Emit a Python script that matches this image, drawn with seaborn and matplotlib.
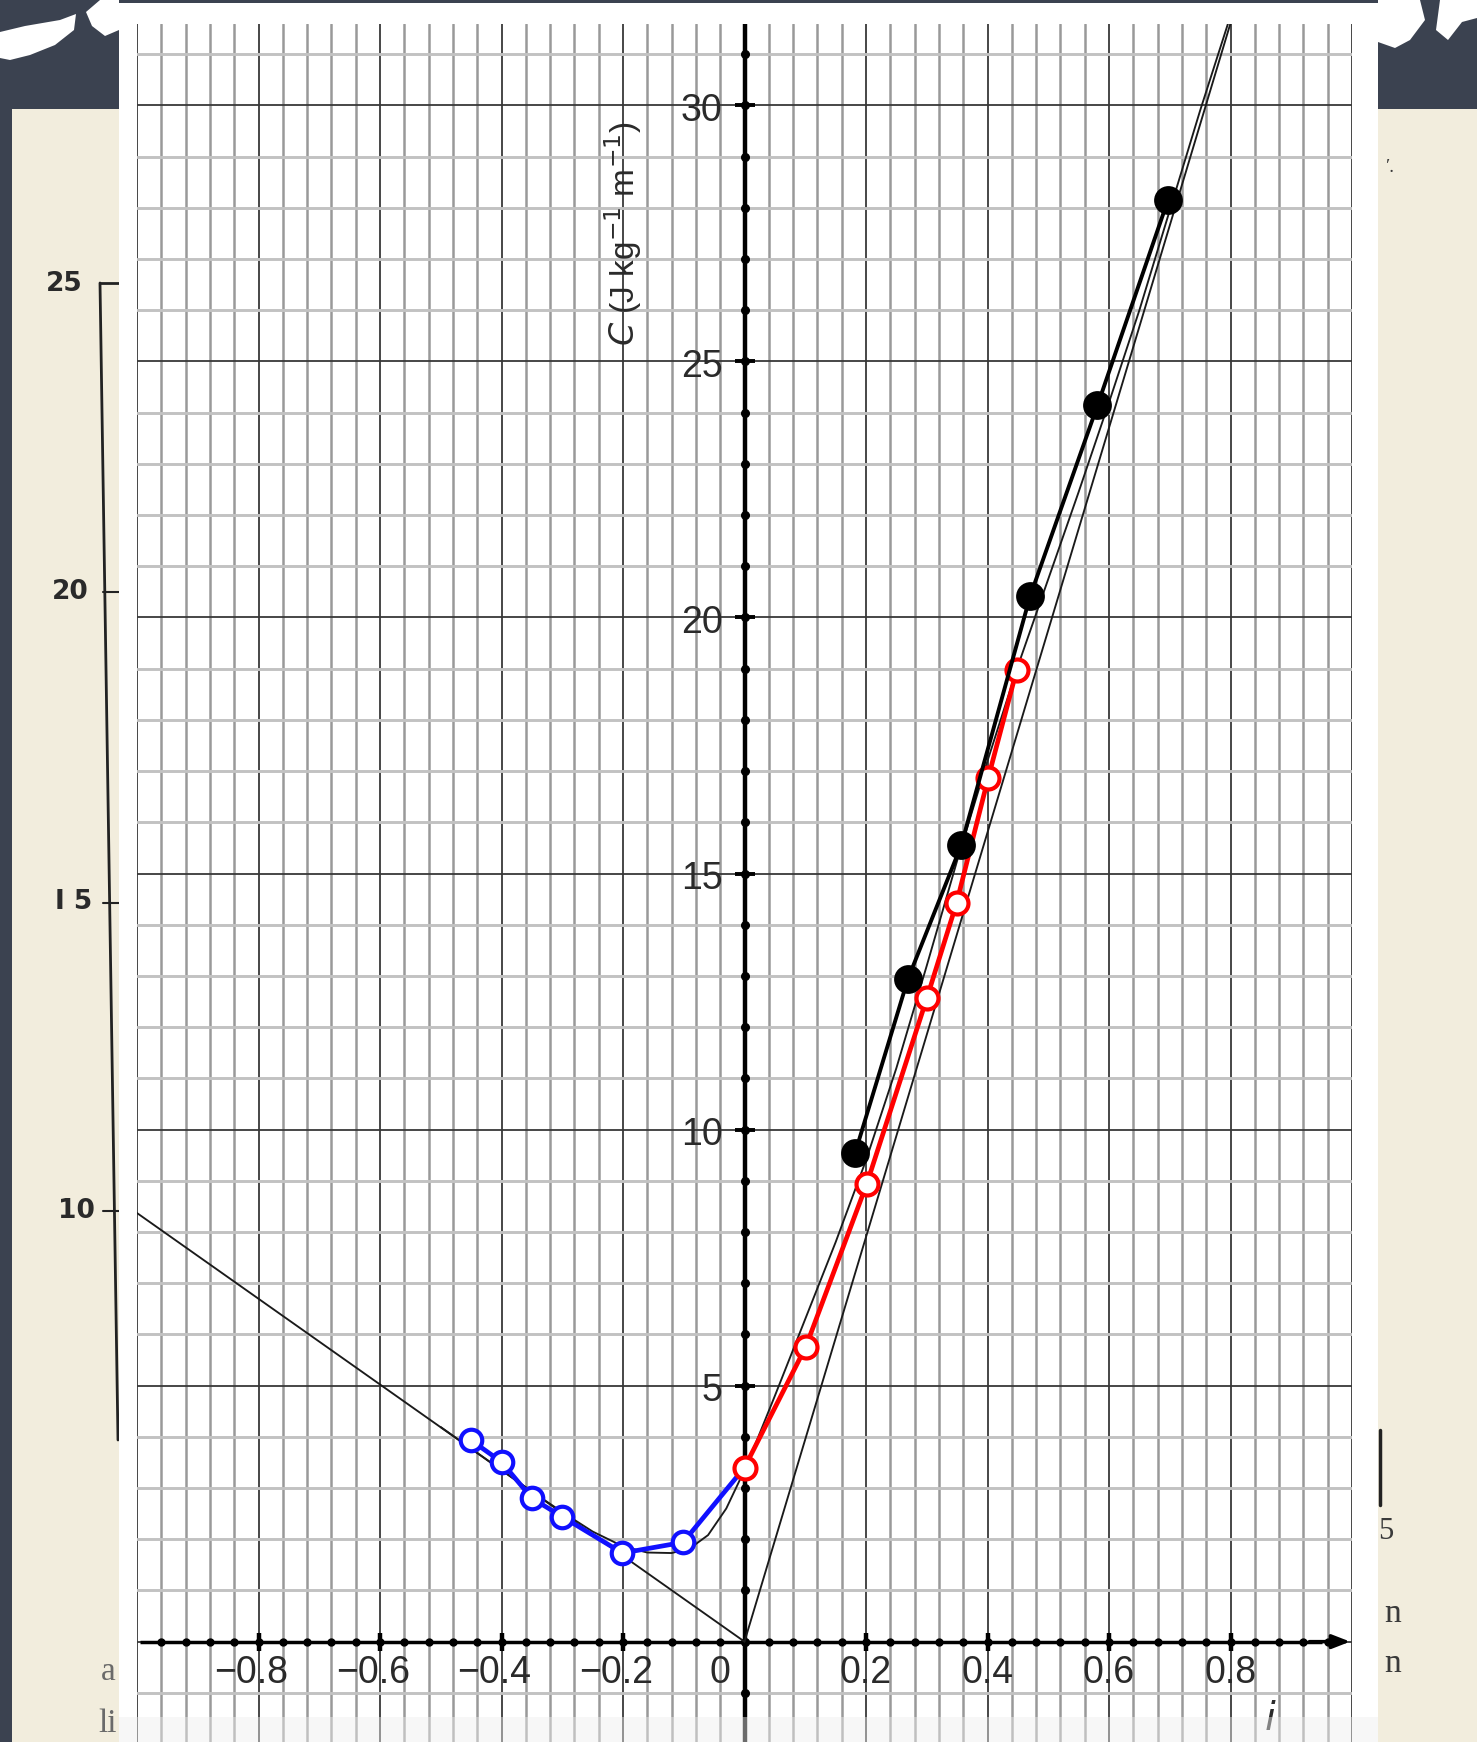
import numpy as np
import matplotlib
matplotlib.use("Agg")
import matplotlib.pyplot as plt
from matplotlib.patches import Rectangle, Polygon
import seaborn as sns

# ---------------- data ----------------
blue_i = [-0.451, -0.400, -0.350, -0.300, -0.201, -0.101]
blue_C = [3.94, 3.51, 2.80, 2.44, 1.73, 1.94]

red_i = [0.0, 0.101, 0.201, 0.300, 0.349, 0.401, 0.448]
red_C = [3.40, 5.76, 8.93, 12.56, 14.42, 16.86, 18.97]

black_i = [0.182, 0.269, 0.357, 0.470, 0.581, 0.697]
black_C = [9.54, 12.94, 15.56, 20.41, 24.14, 28.15]

curve_i = [-0.50, -0.45, -0.40, -0.35, -0.30, -0.25, -0.20, -0.16, -0.12, -0.09,
           -0.06, -0.03, 0.00, 0.02, 0.05, 0.08, 0.11, 0.15, 0.20, 0.25, 0.30,
           0.35, 0.40, 0.45, 0.50, 0.55, 0.60, 0.65, 0.70, 0.75, 0.80]
curve_C = [4.19, 3.77, 3.35, 2.93, 2.53, 2.15, 1.86, 1.74, 1.73, 1.82,
           2.08, 2.60, 3.35, 3.92, 4.80, 5.70, 6.60, 7.80, 9.40, 11.20, 13.20,
           15.25, 17.20, 19.05, 20.75, 22.45, 24.20, 26.00, 27.95, 29.90, 31.75]

lineA_i = [-1.0, 0.0]
lineA_C = [8.37, 0.0]
lineB_i = [0.0, 0.81]
lineB_C = [0.0, 32.0]

xtick_vals = [-0.8, -0.6, -0.4, -0.2, 0.0, 0.2, 0.4, 0.6, 0.8]
xtick_text = ["\u22120.8", "\u22120.6", "\u22120.4", "\u22120.2", "0", "0.2", "0.4", "0.6", "0.8"]
ytick_vals = [5, 10, 15, 20, 25, 30]
ytick_text = ["5", "10", "15", "20", "25", "30"]

XLIM = (-1.0, 1.0)
YLIM = (-1.96, 31.58)

# ---------------- figure ----------------
sns.set_theme(style="white")
plt.rcParams["font.family"] = ["Liberation Sans", "DejaVu Sans"]

W, H = 1477, 1742
fig = plt.figure(figsize=(W / 100, H / 100), dpi=100)
fig.patch.set_facecolor("#3b4250")

def fx(px):
    return px / W

def fy(py):
    return 1 - py / H

# background paper
fig.add_artist(Rectangle((fx(12), 0), fx(107), 1 - 109 / H, transform=fig.transFigure,
                         facecolor="#f2eddd", edgecolor="none", zorder=0.2))
fig.add_artist(Rectangle((fx(1378), 0), fx(99), 1 - 109 / H, transform=fig.transFigure,
                         facecolor="#f2eddd", edgecolor="none", zorder=0.2))
# chalk blobs
for poly in [
    [(0, 32), (25, 26), (60, 20), (76, 14), (74, 30), (55, 45), (30, 55), (10, 60), (0, 58)],
    [(86, 12), (100, 0), (119, 0), (119, 30), (105, 36), (92, 26)],
    [(1378, 0), (1420, 0), (1425, 20), (1410, 40), (1395, 48), (1378, 42)],
    [(1440, 0), (1477, 0), (1477, 18), (1462, 22), (1448, 40), (1436, 30)],
]:
    fig.add_artist(Polygon([(fx(a), fy(b)) for a, b in poly], closed=True,
                           transform=fig.transFigure, facecolor="white",
                           edgecolor="none", zorder=0.3))

# old paper texts
for t, x, y in [("25", 64, 284), ("20", 70, 592), ("I 5", 74, 902), ("10", 76, 1211)]:
    fig.text(fx(x), fy(y), t, fontsize=19, fontweight="bold", color="#2a2a2a",
             ha="center", va="center", family="DejaVu Sans", zorder=0.4)
fig.add_artist(plt.Line2D([fx(100), fx(118)], [fy(283), fy(1440)], transform=fig.transFigure,
                          color="#222222", lw=2, zorder=0.4))
fig.add_artist(plt.Line2D([fx(100), fx(125)], [fy(283), fy(283)], transform=fig.transFigure,
                          color="#222222", lw=2, zorder=0.4))
for yy in [592, 903, 1211]:
    fig.add_artist(plt.Line2D([fx(103), fx(125)], [fy(yy), fy(yy)], transform=fig.transFigure,
                              color="#222222", lw=1.5, zorder=0.4))
for t, x, y in [("a", 108, 1672), ("li", 108, 1724)]:
    fig.text(fx(x), fy(y), t, fontsize=24, color="#6a6a6a", ha="center", va="center",
             family="Liberation Serif", zorder=0.4)
for t, x, y, s in [("5", 1386, 1531, 22), ("n", 1393, 1614, 24), ("n", 1393, 1664, 24),
                   ("\u2032.", 1390, 168, 14)]:
    fig.text(fx(x), fy(y), t, fontsize=s, color="#3a3a3a", ha="center", va="center",
             family="Liberation Serif", zorder=0.4)
fig.add_artist(plt.Line2D([fx(1380), fx(1380)], [fy(1430), fy(1505)], transform=fig.transFigure,
                          color="#222222", lw=2.5, zorder=0.4))

# white panel
fig.add_artist(Rectangle((fx(119), 0), fx(1378 - 119), 1 - 3 / H, transform=fig.transFigure,
                         facecolor="white", edgecolor="none", zorder=1))

# ---------------- axes ----------------
ax = fig.add_axes([fx(137), 0, fx(1352 - 137), 1 - 24.5 / H])
ax.set_zorder(2)
ax.set_facecolor("white")
for s in ax.spines.values():
    s.set_visible(False)

ax.set_xticks(np.round(np.arange(-1.0, 1.0001, 0.2), 2))
ax.set_xticks(np.round(np.arange(-1.0, 1.0001, 0.04), 2), minor=True)
ax.set_yticks(np.arange(0, 35, 5))
ax.set_yticks(np.arange(-1, 32, 1), minor=True)
ax.tick_params(which="both", length=0, labelbottom=False, labelleft=False)
ax.set_axisbelow(True)
ax.xaxis.grid(True, which="major", color="#383838", lw=1.3)
ax.xaxis.grid(True, which="minor", color="#999999", lw=1.8)
ax.yaxis.grid(True, which="major", color="#383838", lw=1.3)
ax.yaxis.grid(True, which="minor", color="#c2c2c2", lw=2.1)

# ---------------- thin reference lines ----------------
sns.lineplot(x=lineA_i, y=lineA_C, ax=ax, color="#1a1a1a", lw=1.35, zorder=3, sort=False)
sns.lineplot(x=lineB_i, y=lineB_C, ax=ax, color="#1a1a1a", lw=1.35, zorder=3, sort=False)
sns.lineplot(x=curve_i, y=curve_C, ax=ax, color="#1a1a1a", lw=1.35, zorder=3, sort=False)

# ---------------- data series ----------------
sns.lineplot(x=list(blue_i) + [red_i[0]], y=list(blue_C) + [red_C[0]], ax=ax,
             color="#1010ff", lw=3.4, zorder=4, sort=False)
sns.scatterplot(x=blue_i, y=blue_C, ax=ax, marker="o", s=240, facecolor="white",
                edgecolor="#1010ff", linewidth=3.0, zorder=4.5)

sns.lineplot(x=red_i, y=red_C, ax=ax, color="#ff0000", lw=3.4, zorder=5, sort=False)
sns.scatterplot(x=red_i, y=red_C, ax=ax, marker="o", s=250, facecolor="white",
                edgecolor="#ff0000", linewidth=3.0, zorder=5.5)

sns.lineplot(x=black_i, y=black_C, ax=ax, color="black", lw=2.8, zorder=6, sort=False)
sns.scatterplot(x=black_i, y=black_C, ax=ax, marker="o", s=430, color="black",
                edgecolor="black", linewidth=0, zorder=6.5)

# thick axes through the origin
ax.plot([-0.995, 0.95], [0, 0], color="black", lw=2.5, zorder=2.5, solid_capstyle="butt")
ax.annotate("", xy=(0.997, 0), xytext=(0.93, 0),
            arrowprops=dict(arrowstyle="-|>,head_length=0.9,head_width=0.35",
                            color="black", lw=2.5, shrinkA=0, shrinkB=0), zorder=2.5)
ax.axvline(0, color="black", lw=3.2, zorder=2.5)
xdots = np.round(np.arange(-0.96, 0.97, 0.04), 2)
ax.plot(xdots, np.zeros_like(xdots), ls="none", marker="o", ms=5, color="black", zorder=2.6)
ax.plot([v for v in xtick_vals if v != 0], [0] * 8, ls="none", marker="|", ms=13, mew=3.2,
        color="black", zorder=2.6)
ydots = np.arange(-1, 32, 1)
ax.plot(np.zeros_like(ydots), ydots, ls="none", marker="o", ms=5.5, color="black", zorder=2.6)
ax.plot([0] * len(ytick_vals), ytick_vals, ls="none", marker="_", ms=15, mew=2.8,
        color="black", zorder=2.6)

# tick labels
for v, t in zip(xtick_vals, xtick_text):
    xpos = v - 0.012 if v < 0 else (v - 0.04 if v == 0 else v)
    ax.text(xpos, -0.62, t, fontsize=27, color="#2a2a2a", ha="center", va="center")
for v, t in zip(ytick_vals, ytick_text):
    ax.text(-0.036, v - 0.1, t, fontsize=27, color="#2a2a2a", ha="right", va="center")
ax.text(-0.20, 27.5, r"$C$ (J kg$^{-1}$ m$^{-1}$)", rotation=90, fontsize=24,
        color="#2a2a2a", ha="center", va="center")
ax.text(0.865, -1.53, r"$i$", fontsize=28, color="#2a2a2a", ha="center", va="center")

ax.set_xlabel("")
ax.set_ylabel("")
leg = ax.get_legend()
if leg is not None:
    leg.remove()

# limits last, so nothing widens them
ax.set_xlim(*XLIM)
ax.set_ylim(*YLIM)

# faint band at the bottom of the panel
fig.add_artist(Rectangle((fx(119), 0), fx(1378 - 119), 25 / H, transform=fig.transFigure,
                         facecolor="#eeeeee", edgecolor="none", alpha=0.45, zorder=5))

fig.savefig("out.png", dpi=100, facecolor=fig.get_facecolor())
